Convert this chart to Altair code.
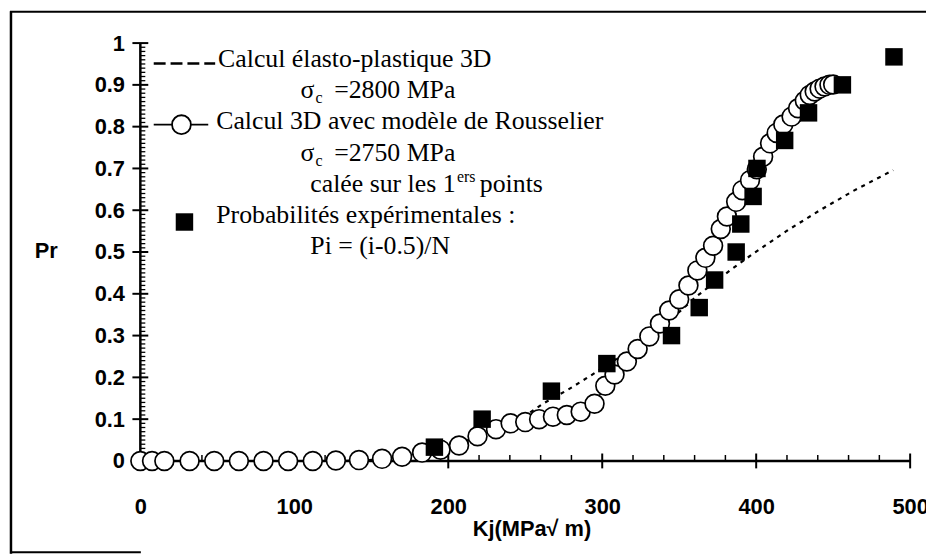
import altair as alt
import pandas as pd
import numpy as np

# ---------------- data ----------------
# Rousselier model (open circles)
kj_model = [0, 7.6, 15.6, 32, 48, 64, 80, 96, 112, 127, 142, 157, 170, 183, 195, 207,
            219, 231, 240.5, 250, 259, 268, 277, 286, 295, 302, 308, 316, 323, 330.6,
            337.5, 343.5, 350, 356, 361.8, 367, 372, 377, 381, 387, 391, 396, 400.4,
            404.5, 409, 413.3, 417.6, 423, 427.2, 431.6, 434.8, 438, 441.2, 444.4,
            447.6, 450]
pr_model = [0, 0, 0, 0, 0, 0, 0, 0, 0, 0.001, 0.002, 0.005, 0.010, 0.020, 0.027, 0.037,
            0.059, 0.076, 0.090, 0.093, 0.100, 0.106, 0.110, 0.118, 0.137, 0.180,
            0.207, 0.238, 0.268, 0.298, 0.329, 0.360, 0.387, 0.420, 0.456, 0.486,
            0.515, 0.555, 0.585, 0.620, 0.648, 0.672, 0.698, 0.728, 0.760, 0.785,
            0.805, 0.824, 0.844, 0.862, 0.876, 0.884, 0.891, 0.896, 0.900, 0.901]

# elasto-plastic 3D computation (dashed)
kj_ep = [183, 207, 222, 240, 250, 262, 278, 292, 310, 330, 345, 361, 383, 398, 420,
         441, 463, 489]
pr_ep = [0.020, 0.040, 0.065, 0.092, 0.108, 0.138, 0.171, 0.203, 0.246, 0.295, 0.340,
         0.393, 0.456, 0.496, 0.551, 0.599, 0.646, 0.696]

# experimental probabilities (black squares)
kj_exp = [191, 222, 267, 303, 345, 363, 373, 387, 390, 398, 400.5, 418.5, 434, 456, 489.5]
pr_exp = [0.033, 0.100, 0.167, 0.233, 0.300, 0.367, 0.433, 0.500, 0.567, 0.633, 0.700,
          0.767, 0.833, 0.900, 0.967]

x_major = [0, 100, 200, 300, 400, 500]
x_minor = [v for v in range(0, 501, 20) if v % 100]
y_major = [round(v / 10, 1) for v in range(0, 11)]
y_minor = [round(v / 100, 2) for v in range(0, 101) if v % 10]

# legend content (data coordinates)
leg_main = [
    ("Calcul élasto-plastique 3D", 50.5, 0.9431),
    ("σ", 104.0, 0.8683),
    ("=2800 MPa", 125.9, 0.8683),
    ("Calcul 3D avec modèle de Rousselier", 49.3, 0.7936),
    ("σ", 104.0, 0.7189),
    ("=2750 MPa", 125.9, 0.7189),
    ("calée sur les 1", 110.4, 0.6441),
    ("points", 220.5, 0.6441),
    ("Probabilités expérimentales :", 49.3, 0.5706),
    ("Pi = (i-0.5)/N", 110.4, 0.4958),
]
leg_small = [
    ("c", 113.7, 0.8565),
    ("c", 113.7, 0.7070),
    ("ers", 205.7, 0.6679),
]

# ---------------- chart ----------------
W, H = 924, 547
PX_X = 1.553   # pixels per x unit
PX_Y = 421.5   # pixels per y unit
sx = alt.Scale(domain=[-84.675, 510.30], nice=False, zero=False)
sy = alt.Scale(domain=[-0.22183, 1.07592], nice=False, zero=False)

ax_x = alt.Axis(values=x_major, format="d", domain=False, ticks=False, tickSize=0,
                grid=False, offset=-93.5, labelPadding=36, labelFont="Liberation Sans",
                labelFontSize=22, labelFontWeight="bold", labelColor="black",
                labelFlush=False, labelOverlap=False,
                title="Kj(MPa√ m)", titleFont="Liberation Sans", titleFontSize=22,
                titleFontWeight="bold", titleColor="black", titleX=526, titleY=68.5,
                titleAlign="center", titleBaseline="middle")
ax_y = alt.Axis(values=y_major, format="~g", domain=False, ticks=False, tickSize=0,
                grid=False, offset=-131.5, labelPadding=16, labelFont="Liberation Sans",
                labelFontSize=22, labelFontWeight="bold", labelColor="black",
                labelFlush=False, labelOverlap=False,
                title="Pr", titleFont="Liberation Sans", titleFontSize=22,
                titleFontWeight="bold", titleColor="black", titleX=-95.5, titleY=241,
                titleAngle=0, titleAlign="center", titleBaseline="middle")


def X(f="x"):
    return alt.X(f"{f}:Q", scale=sx, axis=ax_x)


def Y(f="y"):
    return alt.Y(f"{f}:Q", scale=sy, axis=ax_y)


dummy = pd.DataFrame({"a": [0]})
frame_left = alt.Chart(dummy).mark_rule(color="black", strokeWidth=2.5).encode(
    x=alt.value(1), y=alt.value(0), y2=alt.value(H))
frame_top = alt.Chart(dummy).mark_rule(color="black", strokeWidth=2).encode(
    x=alt.value(0), x2=alt.value(W), y=alt.value(0.5))
frame_bot = alt.Chart(dummy).mark_rule(color="black", strokeWidth=2).encode(
    x=alt.value(0), x2=alt.value(132), y=alt.value(H - 1.5))

# axis lines
xline = alt.Chart(pd.DataFrame({"x": [0, 500], "y": [0, 0]})).mark_line(
    color="black", strokeWidth=2.5).encode(x=X(), y=Y())
yline = alt.Chart(pd.DataFrame({"x": [0, 0], "y": [0, 1]})).mark_line(
    color="black", strokeWidth=2.5).encode(x=X(), y=Y(), order="y:Q")

# ticks (lengths given in pixels, converted to data units)
ytick_min = alt.Chart(pd.DataFrame({"y": y_minor})).transform_calculate(
    x="0", x2=f"{5 / PX_X}").mark_rule(color="black", strokeWidth=1.3).encode(
    x=X(), x2="x2:Q", y=Y())
ytick_maj = alt.Chart(pd.DataFrame({"y": y_major})).transform_calculate(
    x=f"{-8 / PX_X}", x2=f"{8 / PX_X}").mark_rule(color="black", strokeWidth=2).encode(
    x=X(), x2="x2:Q", y=Y())
xtick_min = alt.Chart(pd.DataFrame({"x": x_minor})).transform_calculate(
    y="0", y2=f"{6 / PX_Y}").mark_rule(color="black", strokeWidth=1.5).encode(
    x=X(), y=Y(), y2="y2:Q")
xtick_maj = alt.Chart(pd.DataFrame({"x": x_major})).transform_calculate(
    y=f"{-7.5 / PX_Y}", y2=f"{7.5 / PX_Y}").mark_rule(color="black", strokeWidth=2).encode(
    x=X(), y=Y(), y2="y2:Q")

df_ep = pd.DataFrame({"x": kj_ep, "y": pr_ep})
df_model = pd.DataFrame({"x": kj_model, "y": pr_model, "o": range(len(kj_model))})
df_exp = pd.DataFrame({"x": kj_exp, "y": pr_exp})

ep_line = alt.Chart(df_ep).mark_line(color="black", strokeWidth=2.2,
                                     strokeDash=[4, 5]).encode(x=X(), y=Y())
model_line = alt.Chart(df_model).mark_line(color="black", strokeWidth=1.4).encode(
    x=X(), y=Y(), order="o:Q")
model_pts = alt.Chart(df_model).mark_point(shape="circle", filled=True, fill="white",
                                           stroke="black", strokeWidth=1.7, size=360,
                                           opacity=1).encode(x=X(), y=Y())
exp_pts = alt.Chart(df_exp).mark_point(shape="square", filled=True, color="black",
                                       size=310, opacity=1).encode(x=X(), y=Y())

# legend symbols
leg_dash = alt.Chart(pd.DataFrame({"x": [8.69], "x2": [48.6], "y": [0.9509]})).mark_rule(
    color="black", strokeWidth=2.5, strokeDash=[12, 5]).encode(x=X(), x2="x2:Q", y=Y())
leg_cline = alt.Chart(pd.DataFrame({"x": [8.69], "x2": [44.1], "y": [0.8048]})).mark_rule(
    color="black", strokeWidth=1.8).encode(x=X(), x2="x2:Q", y=Y())
leg_circ = alt.Chart(pd.DataFrame({"x": [26.7], "y": [0.8048]})).mark_point(
    shape="circle", filled=True, fill="white", stroke="black", strokeWidth=1.8,
    size=360, opacity=1).encode(x=X(), y=Y())
leg_sq = alt.Chart(pd.DataFrame({"x": [28.65], "y": [0.5718]})).mark_point(
    shape="square", filled=True, color="black", size=310, opacity=1).encode(x=X(), y=Y())

df_lm = pd.DataFrame(leg_main, columns=["t", "x", "y"])
df_ls = pd.DataFrame(leg_small, columns=["t", "x", "y"])
leg_text = alt.Chart(df_lm).mark_text(align="left", baseline="alphabetic",
                                      font="Liberation Serif", fontSize=26,
                                      color="black").encode(x=X(), y=Y(), text="t:N")
leg_small_text = alt.Chart(df_ls).mark_text(align="left", baseline="alphabetic",
                                            font="Liberation Serif", fontSize=16,
                                            color="black").encode(x=X(), y=Y(), text="t:N")

chart = alt.layer(
    frame_left, frame_top, frame_bot,
    xline, yline, ytick_min, ytick_maj, xtick_min, xtick_maj,
    ep_line, model_line, model_pts, exp_pts,
    leg_dash, leg_cline, leg_circ, leg_sq, leg_text, leg_small_text,
).properties(
    width=W, height=H,
    autosize=alt.AutoSizeParams(type="none"),
    padding={"left": 2, "top": 1, "right": 0, "bottom": 0},
    background="white",
).configure_view(stroke=None)

chart.save("out.html", embed_options={"renderer": "svg", "actions": False})
